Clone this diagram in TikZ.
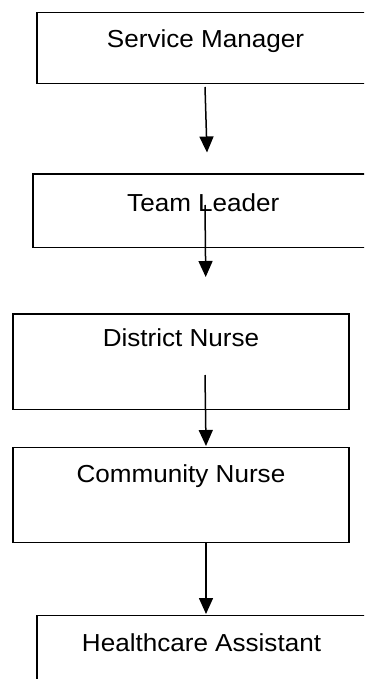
\documentclass[tikz,border=0pt]{standalone}
\usepackage{fontspec}
\setmainfont[FakeStretch=1.06]{Liberation Sans}
\usetikzlibrary{arrows.meta}
\begin{document}
\begin{tikzpicture}[x=1pt,y=-1pt,
  orgbox/.style={draw=black, line width=1.3pt, rectangle, inner xsep=0pt, inner ysep=0pt,
    anchor=north, font=\fontsize{24.6}{29}\selectfont},
  conn/.style={line width=1.5pt, -{Triangle[length=16pt,width=14pt]}}]
\useasboundingbox (0,0) rectangle (364,679);
\clip (0,0) rectangle (364,679);
\fill[white] (0,0) rectangle (364,679);

\node[orgbox, minimum width=337pt, text height=35.3pt, text depth=35.7pt] (b1) at (205.5,11.7) {Service Manager};
\node[orgbox, minimum width=340.6pt, text height=37.7pt, text depth=35.7pt] (b2) at (203.3,173.3) {Team Leader};
\node[orgbox, minimum width=336pt, text height=32.7pt, text depth=63pt] (b3) at (181,313.3) {District Nurse};
\node[orgbox, minimum width=336pt, text height=35.3pt, text depth=59.7pt] (b4) at (181,447) {Community Nurse};
\node[orgbox, minimum width=329pt, text height=35.5pt, text depth=70pt] (b5) at (201.5,615) {Healthcare Assistant};

\coordinate (s1) at (205,87);
\coordinate (e1) at (207,152.5);
\coordinate (s2) at (205,205);
\coordinate (e2) at (205.7,277);
\coordinate (s3) at (205,375);
\coordinate (e3) at (206,446);
\coordinate (s4) at (206,542);
\coordinate (e4) at (206,614);

\draw[conn] (s1) -- (e1);
\draw[conn] (s2) -- (e2);
\draw[conn] (s3) -- (e3);
\draw[conn] (s4) -- (e4);
\end{tikzpicture}
\end{document}
